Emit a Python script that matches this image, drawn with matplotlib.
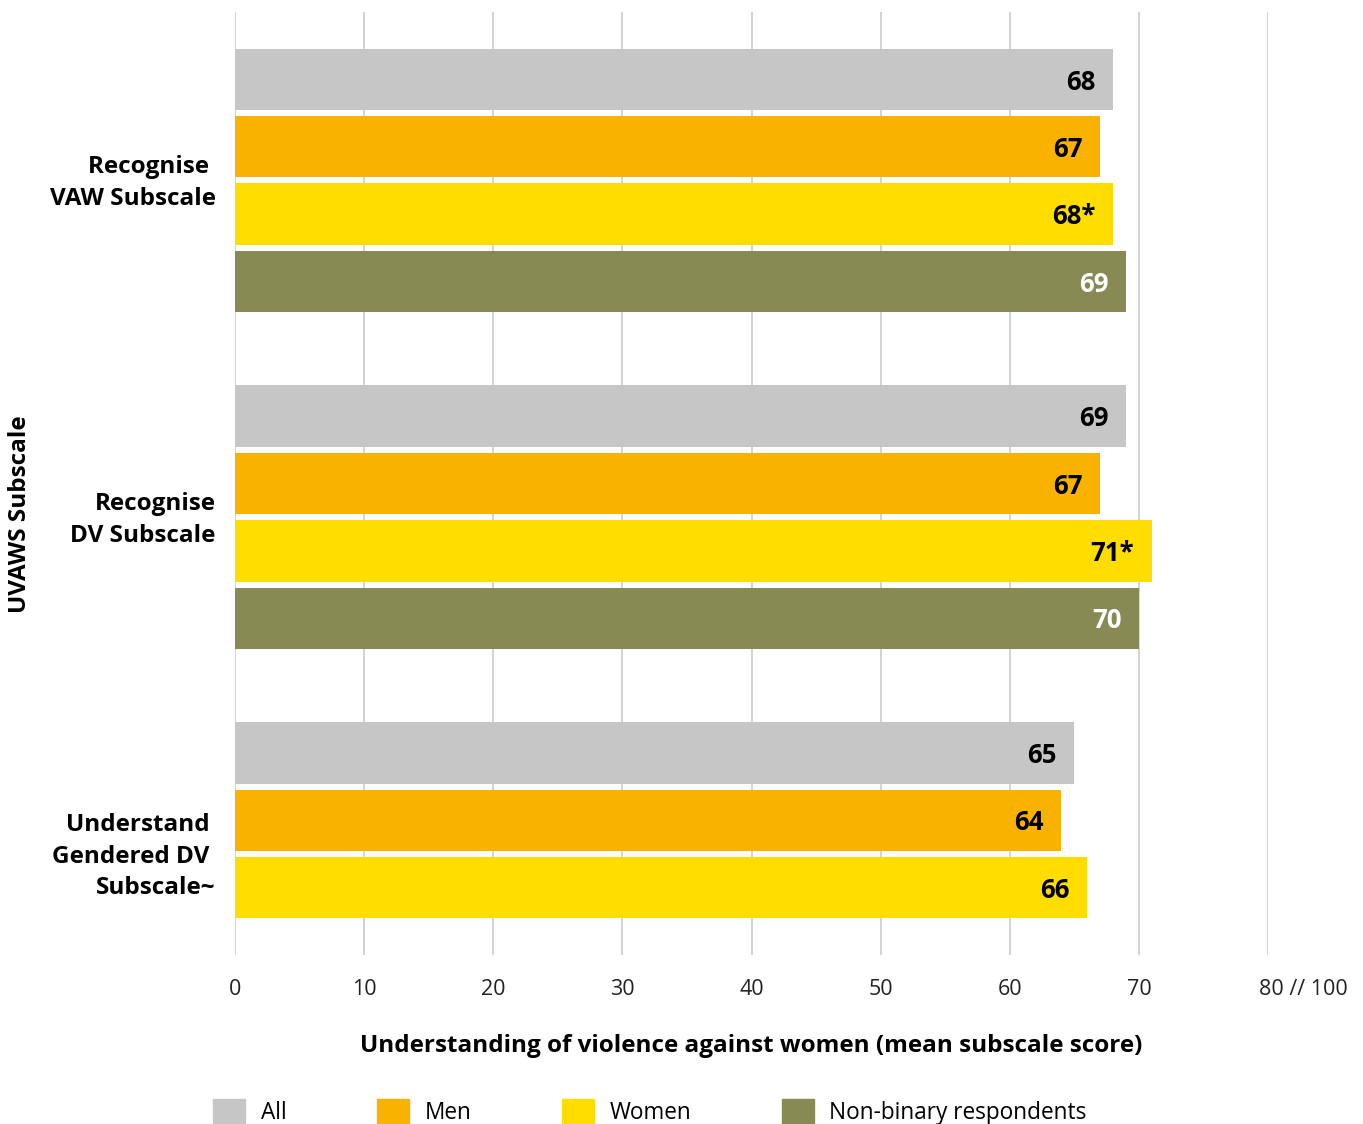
import matplotlib.pyplot as plt

plt.rcParams['font.family'] = ['Open Sans', 'DejaVu Sans']

categories = ['Recognise \nVAW Subscale', 'Recognise\nDV Subscale', 'Understand \nGendered DV \nSubscale~']
series = ['All', 'Men', 'Women', 'Non-binary respondents']
values = {
    'All': [68, 69, 65],
    'Men': [67, 67, 64],
    'Women': [68, 71, 66],
    'Non-binary respondents': [69, 70, None],
}
value_labels = {
    'All': ['68', '69', '65'],
    'Men': ['67', '67', '64'],
    'Women': ['68*', '71*', '66'],
    'Non-binary respondents': ['69', '70', ''],
}
colors = {'All': '#c6c6c6', 'Men': '#f9b200', 'Women': '#ffdd00', 'Non-binary respondents': '#878a53'}
label_colors = {'All': 'black', 'Men': 'black', 'Women': 'black', 'Non-binary respondents': 'white'}
xticks = [0, 10, 20, 30, 40, 50, 60, 70, 80]
xtick_labels = ['0', '10', '20', '30', '40', '50', '60', '70', '80 // 100']

fig = plt.figure(figsize=(13.63, 11.24), dpi=100)
ax = fig.add_axes([235 / 1363, 1 - 955 / 1124, (1268 - 235) / 1363, (955 - 12) / 1124])

for k, s in enumerate(series):
    for g in range(len(categories)):
        v = values[s][g]
        if v is None:
            continue
        y = g * 5 + k
        ax.barh(y, v, height=0.91, color=colors[s], zorder=2)
        ax.text(v - 1.35, y + 0.04, value_labels[s][g], ha='right', va='center', fontsize=18.5,
                fontweight='bold', color=label_colors[s], zorder=3)

ax.set_xlim(0, 80)
ax.set_ylim(13.0, -1.0)
ax.set_xticks(xticks)
# the axis-break label starts at the last tick instead of centring on it
ax.set_xticklabels(xtick_labels[:-1] + [''], fontsize=15.5, color='#222222')
ax.annotate(xtick_labels[-1], xy=(xticks[-1], 0), xycoords=('data', 'axes fraction'),
            xytext=(-6.5, -17), textcoords='offset points', ha='left', va='top',
            fontsize=15.5, color='#222222', annotation_clip=False)
ax.set_yticks([g * 5 + 1.44 for g in range(len(categories))])
ax.set_yticklabels(categories, fontsize=17.5, fontweight='bold', multialignment='right',
                   linespacing=1.42)
ax.tick_params(axis='x', length=0, pad=17)
ax.tick_params(axis='y', length=0, pad=14)
ax.grid(axis='x', color='#cccccc', linewidth=1.2, zorder=0)
for sp in ax.spines.values():
    sp.set_visible(False)

ax.set_xlabel('Understanding of violence against women (mean subscale score)',
              fontsize=17.5, fontweight='bold', labelpad=25)
fig.text(20 / 1363, 1 - 514 / 1124, 'UVAWS Subscale', rotation=90, ha='center', va='center',
         fontsize=17.5, fontweight='bold')

handles = [plt.Rectangle((0, 0), 1, 1, color=colors[s]) for s in series]
fig.legend(handles, series, loc='center', bbox_to_anchor=(650 / 1363, 1 - 1112 / 1124), ncol=4,
           frameon=False, fontsize=16.3, handlelength=1.4, handleheight=1.25, handletextpad=0.7,
           columnspacing=4.0)

fig.savefig('out.png', dpi=100)
